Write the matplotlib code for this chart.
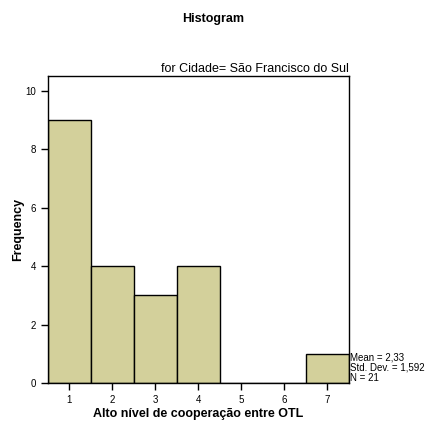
import matplotlib
matplotlib.use("Agg")
import matplotlib.pyplot as plt

plt.rcParams['font.family'] = ['Liberation Sans', 'DejaVu Sans']

categories = [1, 2, 3, 4, 5, 6, 7]
counts = [9, 4, 3, 4, 0, 0, 1]
y_ticks = [0, 2, 4, 6, 8, 10]
stats = "Mean = 2,33\nStd. Dev. = 1,592\nN = 21"

fig = plt.figure(figsize=(4.27, 4.23), dpi=100)
ax = fig.add_axes([0.1124, 0.0946, 0.7049, 0.7257])

ax.bar(categories, counts, width=1.0, color='#d3d09b', edgecolor='black', linewidth=1.0)

ax.set_xlim(0.5, 7.5)
ax.set_ylim(0, 10.5)
ax.set_xticks(categories)
ax.set_yticks(y_ticks)
ax.tick_params(direction='out', length=5, width=1, labelsize=7)
for s in ax.spines.values():
    s.set_linewidth(1.0)

ax.set_xlabel('Alto nível de cooperação entre OTL', fontsize=9, fontweight='bold', labelpad=2)
ax.set_ylabel('Frequency', fontsize=9, fontweight='bold', labelpad=1)
ax.set_title('for Cidade= São Francisco do Sul', fontsize=9, loc='right', pad=3)

fig.text(0.5, 0.955, 'Histogram', ha='center', va='center', fontsize=9, fontweight='bold')

ax.text(1.003, 0.0, stats, transform=ax.transAxes, ha='left', va='bottom', fontsize=7, linespacing=1.0)

fig.savefig('out.png', dpi=100)
